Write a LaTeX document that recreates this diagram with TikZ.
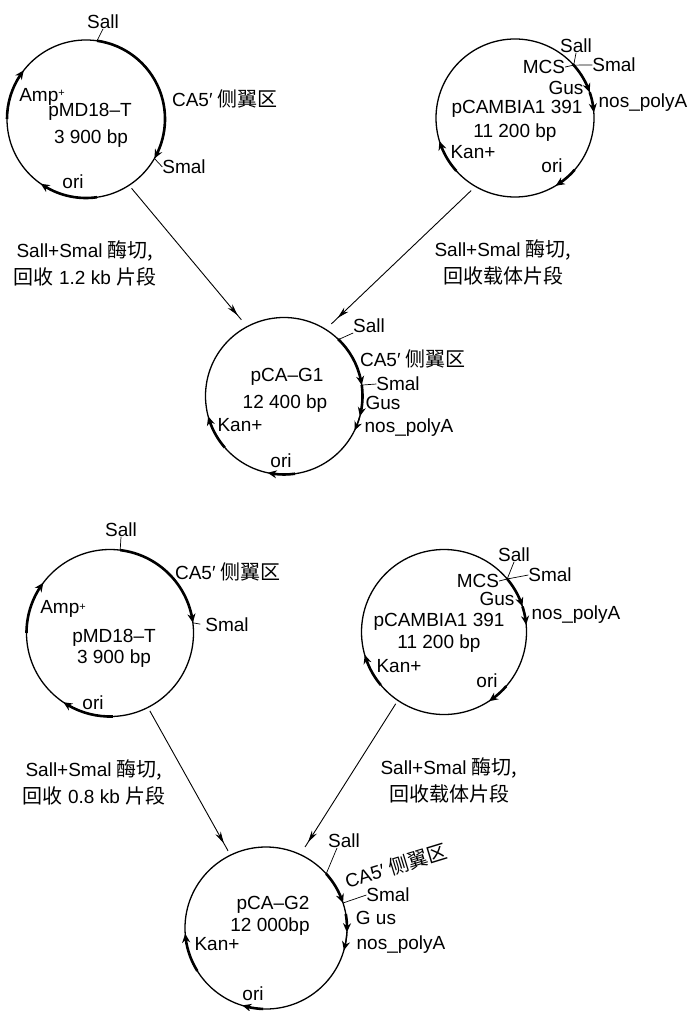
\documentclass[tikz,border=0pt]{standalone}
\usepackage{fontspec}
\setmainfont{Liberation Sans}
\newfontfamily\cjk{Noto Sans CJK SC}
\usetikzlibrary{arrows.meta,bending,decorations.markings}
\newcommand{\zh}[1]{{\cjk\fontsize{20}{20}\selectfont #1}}
\newcommand{\pa}[5][]{\draw[plasarc,#1] ([shift={(#4:#3)}]#2.center) arc[start angle=#4,end angle=#5,radius=#3];}
\tikzset{
 x=1pt,y=1pt,
 plasmid/.style={circle,draw=black,line width=1.3pt,inner sep=0pt,outer sep=0pt},
 lbl/.style={inner sep=0pt,outer sep=0pt,align=center,text=black,font=\fontsize{19}{27}\selectfont},
 plasarc/.style={line width=2.6pt,line cap=butt},
 tip/.style={-{Stealth[length=9pt,width=8pt,flex]}},
 thintip/.style={line width=1.3pt,-{Stealth[length=9pt,width=8pt,flex]}},
 tick/.style={line width=0.7pt},
 link/.style={line width=0.9pt,postaction={decorate},decoration={markings,mark=at position 0.92 with {\arrow{Stealth[length=12pt,width=6pt]}}}},
}
\begin{document}
\begin{tikzpicture}
\useasboundingbox (0,0) rectangle (689,-1011);
% plasmids
\node[plasmid,minimum size=158pt] (c1) at (86,-119) {};
\node[plasmid,minimum size=158pt] (c2) at (515,-118) {};
\node[plasmid,minimum size=157pt] (c3) at (284,-396) {};
\node[plasmid,minimum size=167pt] (c4) at (110,-633) {};
\node[plasmid,minimum size=165pt] (c5) at (444,-632) {};
\node[plasmid,minimum size=162pt] (c6) at (266,-928) {};
% links
\draw[link,shorten <=4pt,shorten >=9pt] (c1.-57) -- (c3.118.6);
\draw[link,shorten <=6pt,shorten >=8pt] (c2.240.4) -- (c3.58);
\draw[link,shorten <=4pt,shorten >=5pt] (c4.-63.7) -- (c6.116.9);
\draw[link,shorten <=4pt,shorten >=9pt] (c5.236.7) -- (c6.65.7);
% arcs c1
\pa[tip]{c1}{79}{82}{-30}
\pa[tip]{c1}{79}{-82}{-125}
\pa[tip]{c1}{79}{180}{142}
% arcs c2
\pa[tip]{c2}{79}{43}{19}
\pa[tip]{c2}{79}{19}{4}
\pa[tip]{c2}{79}{-41}{-59}
\pa[tip]{c2}{79}{222}{197}
% arcs c3
\pa[tip]{c3}{78.5}{46.5}{8}
\pa[tip]{c3}{78.5}{8}{-15}
\pa[thintip]{c3}{78.5}{-15}{-26}
\pa[tip]{c3}{78.5}{-82}{-102}
\pa[tip]{c3}{78.5}{221}{195}
% arcs c4
\pa[tip]{c4}{83.5}{83}{7}
\pa[tip]{c4}{83.5}{180}{143}
\pa[tip]{c4}{83.5}{-88}{-124}
% arcs c5
\pa[tip]{c5}{82.5}{40}{18}
\pa[tip]{c5}{82.5}{18}{5}
\pa[tip]{c5}{82.5}{-41}{-57}
\pa[tip]{c5}{82.5}{220}{196}
% arcs c6
\pa[tip]{c6}{81}{42}{18}
\pa[tip]{c6}{81}{10}{-3}
\pa[thintip]{c6}{81}{-3}{-16}
\pa[tip]{c6}{81}{-92}{-107}
\pa[tip]{c6}{81}{212}{184}
% labels c1
\node[lbl] (s1) at (103,-22) {Sall};
\node[lbl] (ca1) at (225,-99) {CA5′ \zh{侧翼区}};
\node[lbl] (m1) at (184,-167) {Smal};
\node[lbl] (o1) at (73,-182) {ori};
\node[lbl] (a1) at (42,-97) {Amp\raisebox{5pt}{\fontsize{11}{11}\selectfont +}};
\node[lbl] (n1) at (90,-112) {pMD18–T};
\node[lbl] (b1) at (91,-139) {3 900 bp};
% labels c2
\node[lbl] (s2) at (576,-46) {Sall};
\node[lbl] (m2) at (614,-65) {Smal};
\node[lbl] (mc2) at (544,-67) {MCS};
\node[lbl] (g2) at (566,-88) {Gus};
\node[lbl] (p2) at (643,-103) {nos\_polyA};
\node[lbl] (n2) at (517,-109) {pCAMBIA1 391};
\node[lbl] (b2) at (515,-133) {11 200 bp};
\node[lbl] (k2) at (473,-152) {Kan+};
\node[lbl] (o2) at (552,-166) {ori};
% labels c3
\node[lbl] (s3) at (369,-326) {Sall};
\node[lbl] (ca3) at (413,-359) {CA5′ \zh{侧翼区}};
\node[lbl] (n3) at (287,-377) {pCA–G1};
\node[lbl] (b3) at (285,-404) {12 400 bp};
\node[lbl] (m3) at (398,-384) {Smal};
\node[lbl] (g3) at (383,-403) {Gus};
\node[lbl] (p3) at (409,-428) {nos\_polyA};
\node[lbl] (k3) at (240,-425) {Kan+};
\node[lbl] (o3) at (281,-461) {ori};
% labels c4
\node[lbl] (s4) at (121,-530) {Sall};
\node[lbl] (ca4) at (228,-572) {CA5′ \zh{侧翼区}};
\node[lbl] (m4) at (227,-625) {Smal};
\node[lbl] (a4) at (63,-609) {Amp\raisebox{3pt}{\fontsize{11}{11}\selectfont +}};
\node[lbl] (n4) at (114,-638) {pMD18–T};
\node[lbl] (b4) at (114,-659) {3 900 bp};
\node[lbl] (o4) at (93,-703) {ori};
% labels c5
\node[lbl] (s5) at (514,-555) {Sall};
\node[lbl] (m5) at (550,-575) {Smal};
\node[lbl] (mc5) at (478,-581) {MCS};
\node[lbl] (g5) at (497,-599) {Gus};
\node[lbl] (p5) at (576,-615) {nos\_polyA};
\node[lbl] (n5) at (439,-622) {pCAMBIA1 391};
\node[lbl] (b5) at (439,-644) {11 200 bp};
\node[lbl] (k5) at (399,-666) {Kan+};
\node[lbl] (o5) at (487,-681) {ori};
% labels c6
\node[lbl] (s6) at (344,-841) {Sall};
\node[lbl,rotate=17] (ca6) at (396,-866) {CA5′ \zh{侧翼区}};
\node[lbl] (n6) at (273,-905) {pCA–G2};
\node[lbl] (b6) at (270,-927) {12 000bp};
\node[lbl] (m6) at (388,-895) {Smal};
\node[lbl] (g6) at (376,-918) {G us};
\node[lbl] (p6) at (401,-945) {nos\_polyA};
\node[lbl] (k6) at (217,-944) {Kan+};
\node[lbl] (o6) at (253,-994) {ori};
% captions
\node[lbl] (t1) at (85,-263) {Sall+Smal \zh{酶切,}\\\zh{回收} 1.2 kb \zh{片段}};
\node[lbl] (t2) at (503,-262.5) {Sall+Smal \zh{酶切,}\\\zh{回收载体片段}};
\node[lbl] (t3) at (94,-782.5) {Sall+Smal \zh{酶切,}\\\zh{回收} 0.8 kb \zh{片段}};
\node[lbl] (t4) at (449,-780) {Sall+Smal \zh{酶切,}\\\zh{回收载体片段}};
% ticks
\draw[tick] (c1.82) -- (s1.south);
\draw[tick] (c1.-30) -- (m1.west);
\draw[tick] (c2.42) -- (s2.south);
\draw[tick] (c2.42) -- (m2.west);
\draw[tick] (c2.42) -- (mc2.east);
\draw[tick] (c3.46.5) -- (s3.south west);
\draw[tick] (c3.8) -- (m3.west);
\draw[tick] (c4.83) -- (s4.south);
\draw[tick,shorten >=5pt] (c4.7) -- (m4.west);
\draw[tick] (c5.40) -- (s5.south);
\draw[tick] (c5.40) -- (m5.west);
\draw[tick] (c5.40) -- (mc5.east);
\draw[tick] (c6.42) -- ([xshift=-7pt]s6.south);
\draw[tick] (c6.18) -- (m6.west);
\end{tikzpicture}
\end{document}
